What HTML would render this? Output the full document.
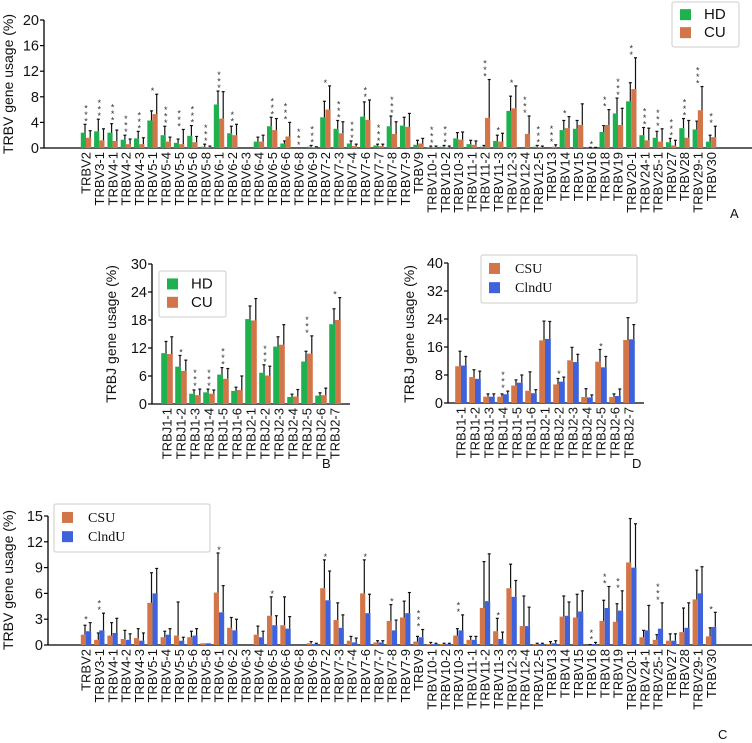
<!DOCTYPE html>
<html><head><meta charset="utf-8"><style>
body{margin:0;background:#fff}
svg{display:block;font-family:"Liberation Sans",sans-serif}
</style></head><body>
<svg id="chart" width="752" height="743" viewBox="0 0 752 743" xmlns="http://www.w3.org/2000/svg"></svg>
<script>
const vCats=["TRBV2","TRBV3-1","TRBV4-1","TRBV4-2","TRBV4-3","TRBV5-1","TRBV5-4","TRBV5-5","TRBV5-6","TRBV5-8","TRBV6-1","TRBV6-2","TRBV6-3","TRBV6-4","TRBV6-5","TRBV6-6","TRBV6-8","TRBV6-9","TRBV7-2","TRBV7-3","TRBV7-4","TRBV7-6","TRBV7-7","TRBV7-8","TRBV7-9","TRBV9","TRBV10-1","TRBV10-2","TRBV10-3","TRBV11-1","TRBV11-2","TRBV11-3","TRBV12-3","TRBV12-4","TRBV12-5","TRBV13","TRBV14","TRBV15","TRBV16","TRBV18","TRBV19","TRBV20-1","TRBV24-1","TRBV25-1","TRBV27","TRBV28","TRBV29-1","TRBV30"];
const jCats=["TRBJ1-1","TRBJ1-2","TRBJ1-3","TRBJ1-4","TRBJ1-5","TRBJ1-6","TRBJ2-1","TRBJ2-2","TRBJ2-3","TRBJ2-4","TRBJ2-5","TRBJ2-6","TRBJ2-7"];
// Panel A
const aHD=[2.4,2.6,2.4,1.3,1.5,4.3,2.0,0.8,1.9,0.2,6.8,2.3,0,1.0,3.4,0.7,0,0.2,4.8,3.0,0.7,4.9,0.4,3.4,3.5,0.5,0.1,0.2,1.5,0.6,0.2,1.1,5.8,0,0.2,0,2.8,3.0,0.05,2.5,5.4,7.3,2.0,1.6,0.9,3.1,2.9,1.0];
const aHDerr=[3.7,4.5,3.8,2.0,2.6,5.8,3.4,1.4,3.5,0.6,8.9,3.4,0,1.7,4.8,1.1,0,0.4,7.3,4.3,1.1,7.2,0.6,5.0,4.8,1.2,0.3,0.4,2.4,1.2,0.4,2.0,8.1,0,0.4,0,4.3,4.3,0.1,3.5,7.8,10.2,3.2,2.6,1.5,4.6,4.2,2.0];
const aCU=[1.6,1.2,1.1,0.6,0.6,5.3,1.0,0.6,0.9,0.1,4.6,2.0,0,1.0,2.8,1.8,0,0.1,6.0,2.3,0.3,4.4,0.3,2.2,3.3,0.7,0.1,0.1,1.3,0.5,4.7,1.0,6.2,2.2,0.1,0.2,3.1,3.6,0.05,3.6,3.6,9.2,1.2,1.0,0.4,1.6,5.9,1.7];
const aCUerr=[2.7,3.0,2.8,1.4,1.6,8.4,1.7,2.9,1.8,0.3,8.8,3.7,0,2.0,4.6,4.0,0,0.2,9.7,4.1,0.6,7.5,0.6,4.1,5.4,1.5,0.3,0.3,2.5,1.1,10.7,2.3,9.7,5.0,0.3,0.5,4.9,6.9,0.1,6.0,6.2,14.1,3.1,3.0,1.2,4.3,9.6,3.4];
const aStars=[3,3,3,3,3,1,3,3,3,3,3,2,0,0,3,3,3,3,1,3,3,2,3,3,0,0,3,3,0,0,3,1,1,3,3,3,1,0,1,2,3,2,3,3,3,3,3,2];
const aTicks=[0,4,8,12,16,20];
// Panel B
const bHD=[10.9,8.0,2.2,2.5,6.3,2.8,18.2,6.7,12.3,1.5,9.1,1.8,17.1];
const bHDerr=[13.4,10.4,3.0,3.2,7.8,3.6,21.0,8.4,14.4,2.1,11.3,2.4,20.4];
const bCU=[10.7,7.1,1.9,2.2,5.4,3.0,17.9,6.1,12.7,1.6,10.8,1.9,18.0];
const bCUerr=[14.4,9.4,3.2,3.0,7.6,6.0,22.6,8.1,17.0,3.1,14.6,3.4,22.8];
const bStars=[0,1,3,3,3,0,0,3,0,0,3,0,1];
const bTicks=[0,6,12,18,24,30];
// Panel D
const dCSU=[10.5,7.4,1.8,1.8,5.0,3.5,17.9,5.3,12.2,1.7,11.8,1.7,18.0];
const dCSUerr=[14.8,9.5,2.6,2.6,6.6,8.9,23.4,7.0,15.9,4.1,15.3,2.6,24.4];
const dCI=[10.7,6.9,1.8,2.5,5.8,2.8,18.3,6.1,11.7,1.6,10.2,2.0,18.2];
const dCIerr=[13.3,9.1,2.6,3.4,8.0,3.8,23.3,7.4,13.9,2.3,13.3,4.0,22.4];
const dStars=[0,0,0,3,0,0,0,1,0,0,1,0,0];
const dTicks=[0,8,16,24,32,40];
// Panel C
const cCSU=[1.2,0.6,1.1,0.7,0.8,4.9,0.9,1.1,0.9,0.2,6.1,2.0,0,1.2,3.4,2.3,0,0.2,6.6,2.9,0.5,6.0,0.3,2.8,3.2,0.4,0.1,0.1,1.1,0.6,4.3,1.6,6.6,2.2,0.1,0.1,3.3,3.2,0,2.8,2.7,9.6,0.9,0.6,0.5,1.5,5.3,1.0];
const cCSUerr=[2.3,1.4,2.6,1.7,1.9,8.4,1.6,5.0,1.6,0.2,10.7,3.2,0,2.2,5.6,5.6,0,0.4,9.9,4.9,1.0,9.9,0.5,4.7,5.1,1.0,0.3,0.2,1.9,1.0,9.7,3.1,9.4,5.7,0.2,0.4,5.7,5.9,0.05,5.2,4.8,14.7,1.7,1.2,1.3,4.3,8.7,2.0];
const cCI=[1.6,1.7,1.4,0.6,0.5,6.0,1.2,0.5,1.1,0.2,3.8,1.7,0,0.9,2.3,1.9,0,0.1,5.2,2.0,0.3,3.7,0.3,1.7,3.7,0.9,0.1,0.1,1.7,0.6,5.1,0.7,5.6,2.2,0.1,0.2,3.4,3.9,0.1,4.3,4.0,9.0,1.7,1.9,0.5,2.0,6.0,2.1];
const cCIerr=[2.6,3.7,3.1,1.3,1.4,8.9,1.9,0.9,1.9,0.2,6.9,3.0,0,1.6,3.4,3.3,0,0.2,8.6,3.5,0.8,5.9,0.5,2.9,6.1,1.8,0.2,0.2,3.5,1.0,10.6,1.5,7.5,4.4,0.2,0.5,5.0,6.3,0.3,6.8,6.3,14.1,4.6,4.9,1.3,4.9,9.1,3.8];
const cStars=[1,2,0,0,0,0,0,0,0,0,1,0,0,0,1,0,0,0,1,0,0,1,0,1,0,3,0,0,2,0,0,1,0,0,0,0,0,0,2,2,2,0,0,3,0,0,0,1];
const cTicks=[0,3,6,9,12,15];

const NS="http://www.w3.org/2000/svg";
const svg=document.getElementById('chart');
function mk(tag,attrs,parent,text){const e=document.createElementNS(NS,tag);for(const k in attrs)e.setAttribute(k,attrs[k]);if(text!==undefined)e.textContent=text;(parent||svg).appendChild(e);return e;}
const GREEN="#1fb04f",ORANGE="#d2764a",BLUE="#3d62dc";

function panel(o){
  const g=mk('g',{});
  
  
  const y=v=>o.y0-(v/o.max)*(o.y0-o.yTop);
  const x=i=>o.x0c+i*o.step;
  const ax=mk('line',{x1:o.ax,y1:o.yTop,x2:o.ax,y2:o.y0,stroke:'#000','stroke-width':1.3},g);
  
  o.ticks.forEach(t=>{
    mk('line',{x1:o.ax-4,y1:y(t),x2:o.ax,y2:y(t),stroke:'#000','stroke-width':1.2},g);
    const tl=mk('text',{x:o.ax-5,y:y(t)+5,'text-anchor':'end','font-size':14.5,fill:'#111'},g,t);
    
  });
  const xl=mk('line',{x1:o.ax,y1:o.y0,x2:o.axEnd,y2:o.y0,stroke:'#000','stroke-width':1.3},g);
  
  const tt=mk('text',{x:0,y:0,'text-anchor':'middle','font-size':14,fill:'#111',transform:`translate(${o.titleX},${o.titleY}) rotate(-90)`},g,o.title);
  
  o.cats.forEach((c,i)=>{
    const cx=x(i);
    [[o.s1,o.e1,o.c1,-1],[o.s2,o.e2,o.c2,0]].forEach(([s,e,col,off],k)=>{
      const bx=cx+off*o.bw;
      if(s[i]>0){
        const r=mk('rect',{x:bx,y:y(s[i]),width:o.bw,height:o.y0-y(s[i]),fill:col},g);
        
        
      }
      if(e[i]>s[i]){
        const ex=bx+o.bw-1;
        mk('line',{x1:ex,y1:y(s[i]),x2:ex,y2:y(e[i]),stroke:'#111','stroke-width':1.2},g);
        mk('line',{x1:ex-1.5,y1:y(e[i]),x2:ex+1.5,y2:y(e[i]),stroke:'#111','stroke-width':1.2},g);
      }
    });
    const top=Math.min(y(o.e1[i]),y(o.e2[i]));
    for(let s=0;s<o.stars[i];s++){
      const st=mk('text',{x:cx,y:top-s*6.5,'text-anchor':'middle','font-size':9,fill:'#333'},g,'*');
      
    }
    const lb=mk('text',{x:0,y:0,'text-anchor':'end','font-size':o.lfs,fill:'#111',transform:`translate(${cx+o.lfs*0.36},${o.y0+4}) rotate(-90)`},g,c);
    
  });
  const L=o.leg;
  const lg=mk('g',{},g);
  
  mk('rect',{x:L.x,y:L.y,width:L.w,height:L.h,fill:'#fff',stroke:'#ccc','stroke-width':1,rx:2},lg);
  [[o.c1,o.l1],[o.c2,o.l2]].forEach(([col,lab],k)=>{
    const yy=L.y+L.h*(k?0.67:0.27);
    const sq=mk('rect',{x:L.x+8,y:yy-5,width:11,height:11,fill:col},lg);
    
    const t=mk('text',{x:L.x+L.tx,y:yy+5,'font-size':L.fs,fill:'#111','font-family':L.font},lg,lab);
    
  });
  const pl=mk('text',{x:o.lab[0],y:o.lab[1],'font-size':13,fill:'#111'},g,o.letter);
  
}
panel({name:'panel-a',cats:vCats,s1:aHD,e1:aHDerr,s2:aCU,e2:aCUerr,stars:aStars,ticks:aTicks,max:20,y0:148,yTop:20,ax:44,axEnd:752,x0c:86,step:13.3,bw:5.2,lfs:13,c1:GREEN,c2:ORANGE,n1:'hd',n2:'cu',l1:'HD',l2:'CU',title:'TRBV gene usage (%)',titleX:13,titleY:84,leg:{x:672,y:2,w:67,h:45,tx:32,fs:15,font:'"Liberation Sans",sans-serif'},letter:'A',lab:[730,218]});
panel({name:'panel-b',cats:jCats,s1:bHD,e1:bHDerr,s2:bCU,e2:bCUerr,stars:bStars,ticks:bTicks,max:30,y0:404,yTop:264,ax:152,axEnd:350,x0c:167,step:14,bw:5.8,lfs:13,c1:GREEN,c2:ORANGE,n1:'hd',n2:'cu',l1:'HD',l2:'CU',title:'TRBJ gene usage (%)',titleX:116,titleY:334,leg:{x:159,y:271,w:67,h:46,tx:32,fs:15,font:'"Liberation Sans",sans-serif'},letter:'B',lab:[322,468]});
panel({name:'panel-d',cats:jCats,s1:dCSU,e1:dCSUerr,s2:dCI,e2:dCIerr,stars:dStars,ticks:dTicks,max:40,y0:403,yTop:263,ax:448,axEnd:644,x0c:461,step:14,bw:5.8,lfs:13,c1:ORANGE,c2:BLUE,n1:'csu',n2:'clndu',l1:'CSU',l2:'ClndU',title:'TRBJ gene usage (%)',titleX:414,titleY:334,leg:{x:481,y:255,w:156,h:48,tx:34,fs:14,font:'"Liberation Serif",serif'},letter:'D',lab:[632,468]});
panel({name:'panel-c',cats:vCats,s1:cCSU,e1:cCSUerr,s2:cCI,e2:cCIerr,stars:cStars,ticks:cTicks,max:15,y0:645,yTop:516,ax:48,axEnd:752,x0c:86,step:13.3,bw:5.2,lfs:13,c1:ORANGE,c2:BLUE,n1:'csu',n2:'clndu',l1:'CSU',l2:'ClndU',title:'TRBV gene usage (%)',titleX:13,titleY:580,leg:{x:54,y:504,w:156,h:48,tx:34,fs:14,font:'"Liberation Serif",serif'},letter:'C',lab:[718,739]});
</script>
</body></html>
